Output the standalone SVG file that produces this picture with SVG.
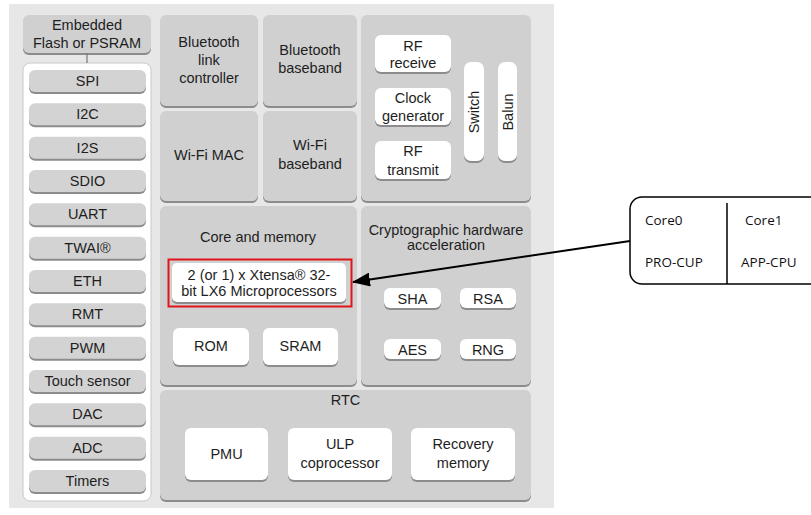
<svg xmlns="http://www.w3.org/2000/svg" width="811" height="515" viewBox="0 0 811 515">
<defs>
<marker id="ah" viewBox="0 0 18 14" refX="17" refY="7" markerWidth="18" markerHeight="14" markerUnits="userSpaceOnUse" orient="auto">
<path d="M0,0 L18,7 L0,14 z" fill="#000"/>
</marker>
</defs>
<style>
text{font-family:"Liberation Sans",Arial,sans-serif;font-size:14.5px;fill:#1e1e1e;text-anchor:middle}
.sh{fill:#8c8c8c}
.g{fill:#d0d0d0}
.p{fill:#d3d3d3}
.w{fill:#ffffff}
.c{font-family:"Open Sans","Noto Sans",sans-serif;font-size:13.5px;text-anchor:start;fill:#111}
</style>
<rect width="811" height="515" fill="#fff"/>
<rect x="9" y="4" width="545" height="504" fill="#e7e7e7"/>

<g id="flash">
<rect class="sh" x="23" y="17" width="128" height="38" rx="6"/>
<rect class="g" x="23" y="15" width="128" height="38" rx="6"/>
<text x="87" y="30">Embedded</text>
<text x="87" y="48">Flash or PSRAM</text>
</g>

<g id="peripherals">
<rect x="23" y="63" width="128" height="438" rx="7" fill="#fff" stroke="#c8c8c8" stroke-width="1"/>
</g>
<g id="spi"><rect class="sh" x="29" y="72" width="117" height="22" rx="6"/><rect class="p" x="29" y="70" width="117" height="22" rx="6"/><text x="87.5" y="86">SPI</text></g>
<g id="i2c"><rect class="sh" x="29" y="105.3" width="117" height="22" rx="6"/><rect class="p" x="29" y="103.3" width="117" height="22" rx="6"/><text x="87.5" y="119.3">I2C</text></g>
<g id="i2s"><rect class="sh" x="29" y="138.7" width="117" height="22" rx="6"/><rect class="p" x="29" y="136.7" width="117" height="22" rx="6"/><text x="87.5" y="152.7">I2S</text></g>
<g id="sdio"><rect class="sh" x="29" y="172" width="117" height="22" rx="6"/><rect class="p" x="29" y="170" width="117" height="22" rx="6"/><text x="87.5" y="186">SDIO</text></g>
<g id="uart"><rect class="sh" x="29" y="205.3" width="117" height="22" rx="6"/><rect class="p" x="29" y="203.3" width="117" height="22" rx="6"/><text x="87.5" y="219.3">UART</text></g>
<g id="twai"><rect class="sh" x="29" y="238.7" width="117" height="22" rx="6"/><rect class="p" x="29" y="236.7" width="117" height="22" rx="6"/><text x="87.5" y="252.7">TWAI®</text></g>
<g id="eth"><rect class="sh" x="29" y="272" width="117" height="22" rx="6"/><rect class="p" x="29" y="270" width="117" height="22" rx="6"/><text x="87.5" y="286">ETH</text></g>
<g id="rmt"><rect class="sh" x="29" y="305.3" width="117" height="22" rx="6"/><rect class="p" x="29" y="303.3" width="117" height="22" rx="6"/><text x="87.5" y="319.3">RMT</text></g>
<g id="pwm"><rect class="sh" x="29" y="338.7" width="117" height="22" rx="6"/><rect class="p" x="29" y="336.7" width="117" height="22" rx="6"/><text x="87.5" y="352.7">PWM</text></g>
<g id="touch"><rect class="sh" x="29" y="372" width="117" height="22" rx="6"/><rect class="p" x="29" y="370" width="117" height="22" rx="6"/><text x="87.5" y="386">Touch sensor</text></g>
<g id="dac"><rect class="sh" x="29" y="405.3" width="117" height="22" rx="6"/><rect class="p" x="29" y="403.3" width="117" height="22" rx="6"/><text x="87.5" y="419.3">DAC</text></g>
<g id="adc"><rect class="sh" x="29" y="438.7" width="117" height="22" rx="6"/><rect class="p" x="29" y="436.7" width="117" height="22" rx="6"/><text x="87.5" y="452.7">ADC</text></g>
<g id="timers"><rect class="sh" x="29" y="472" width="117" height="22" rx="6"/><rect class="p" x="29" y="470" width="117" height="22" rx="6"/><text x="87.5" y="486">Timers</text></g>

<g id="bt-link">
<rect class="sh" x="160" y="17" width="98" height="91" rx="6"/>
<rect class="g" x="160" y="15" width="98" height="91" rx="6"/>
<text x="209" y="47">Bluetooth</text>
<text x="209" y="65">link</text>
<text x="209" y="83">controller</text>
</g>
<g id="bt-baseband">
<rect class="sh" x="263" y="17" width="94" height="91" rx="6"/>
<rect class="g" x="263" y="15" width="94" height="91" rx="6"/>
<text x="310" y="55">Bluetooth</text>
<text x="310" y="73">baseband</text>
</g>
<g id="wifi-mac">
<rect class="sh" x="160" y="113" width="98" height="90" rx="6"/>
<rect class="g" x="160" y="111" width="98" height="90" rx="6"/>
<text x="209" y="160">Wi-Fi MAC</text>
</g>
<g id="wifi-baseband">
<rect class="sh" x="263" y="113" width="94" height="90" rx="6"/>
<rect class="g" x="263" y="111" width="94" height="90" rx="6"/>
<text x="310" y="150">Wi-Fi</text>
<text x="310" y="169">baseband</text>
</g>
<g id="rf">
<rect class="sh" x="361" y="17" width="170" height="186" rx="6"/>
<rect class="g" x="361" y="15" width="170" height="186" rx="6"/>
</g>
<g id="rf-receive">
<rect class="sh" x="375" y="37" width="76" height="37" rx="6"/>
<rect class="w" x="375" y="35" width="76" height="37" rx="6"/>
<text x="413" y="51">RF</text>
<text x="413" y="68">receive</text>
</g>
<g id="clock">
<rect class="sh" x="375" y="90" width="76" height="37" rx="6"/>
<rect class="w" x="375" y="88" width="76" height="37" rx="6"/>
<text x="413" y="103">Clock</text>
<text x="413" y="121">generator</text>
</g>
<g id="rf-transmit">
<rect class="sh" x="375" y="143" width="76" height="38" rx="6"/>
<rect class="w" x="375" y="141" width="76" height="38" rx="6"/>
<text x="413" y="156">RF</text>
<text x="413" y="175">transmit</text>
</g>
<g id="switch">
<rect class="sh" x="464" y="64" width="20" height="99" rx="7"/>
<rect class="w" x="464" y="62" width="20" height="99" rx="7"/>
<text transform="translate(479,112) rotate(-90)">Switch</text>
</g>
<g id="balun">
<rect class="sh" x="498" y="64" width="19" height="99" rx="7"/>
<rect class="w" x="498" y="62" width="19" height="99" rx="7"/>
<text transform="translate(513,112) rotate(-90)">Balun</text>
</g>

<g id="core-memory">
<rect class="sh" x="160" y="208" width="197" height="179" rx="6"/>
<rect class="g" x="160" y="206" width="197" height="179" rx="6"/>
<text x="258" y="242">Core and memory</text>
</g>
<g id="cpu">
<rect class="sh" x="172" y="265" width="174" height="39" rx="5"/>
<rect class="w" x="172" y="263" width="174" height="39" rx="5"/>
<rect x="168.5" y="259.5" width="183" height="47" fill="none" stroke="#e0161b" stroke-width="2"/>
<text x="259" y="280">2 (or 1) x Xtensa® 32-</text>
<text x="259" y="296">bit LX6 Microprocessors</text>
</g>
<g id="rom">
<rect class="sh" x="173" y="330" width="76" height="37" rx="6"/>
<rect class="w" x="173" y="328" width="76" height="37" rx="6"/>
<text x="211" y="351">ROM</text>
</g>
<g id="sram">
<rect class="sh" x="263" y="330" width="75" height="37" rx="6"/>
<rect class="w" x="263" y="328" width="75" height="37" rx="6"/>
<text x="300.5" y="351">SRAM</text>
</g>

<g id="crypto">
<rect class="sh" x="361" y="208" width="170" height="179" rx="6"/>
<rect class="g" x="361" y="206" width="170" height="179" rx="6"/>
<text x="446" y="235">Cryptographic hardware</text>
<text x="446" y="250">acceleration</text>
</g>
<g id="sha">
<rect class="sh" x="384" y="290" width="57" height="20" rx="6"/>
<rect class="w" x="384" y="288" width="57" height="20" rx="6"/>
<text x="412.5" y="304">SHA</text>
</g>
<g id="rsa">
<rect class="sh" x="460" y="290" width="56" height="20" rx="6"/>
<rect class="w" x="460" y="288" width="56" height="20" rx="6"/>
<text x="488" y="304">RSA</text>
</g>
<g id="aes">
<rect class="sh" x="384" y="341" width="57" height="20" rx="6"/>
<rect class="w" x="384" y="339" width="57" height="20" rx="6"/>
<text x="412.5" y="355">AES</text>
</g>
<g id="rng">
<rect class="sh" x="460" y="341" width="56" height="20" rx="6"/>
<rect class="w" x="460" y="339" width="56" height="20" rx="6"/>
<text x="488" y="355">RNG</text>
</g>

<g id="rtc">
<rect class="sh" x="160" y="392" width="371" height="110" rx="6"/>
<rect class="g" x="160" y="390" width="371" height="110" rx="6"/>
<text x="345.5" y="405">RTC</text>
</g>
<g id="pmu">
<rect class="sh" x="185" y="430" width="83" height="52" rx="6"/>
<rect class="w" x="185" y="428" width="83" height="52" rx="6"/>
<text x="226.5" y="459">PMU</text>
</g>
<g id="ulp">
<rect class="sh" x="288" y="430" width="104" height="52" rx="6"/>
<rect class="w" x="288" y="428" width="104" height="52" rx="6"/>
<text x="340" y="449">ULP</text>
<text x="340" y="468">coprocessor</text>
</g>
<g id="recovery">
<rect class="sh" x="411" y="430" width="104" height="52" rx="6"/>
<rect class="w" x="411" y="428" width="104" height="52" rx="6"/>
<text x="463" y="449">Recovery</text>
<text x="463" y="468">memory</text>
</g>

<g id="cores">
<rect x="630" y="197" width="200" height="87" rx="12" fill="#fff" stroke="#000" stroke-width="1.5"/>
<line x1="727" y1="203" x2="727" y2="284" stroke="#000" stroke-width="1.5"/>
<text class="c" x="645" y="225">Core0</text>
<text class="c" x="645" y="267">PRO-CUP</text>
<text class="c" x="745" y="225">Core1</text>
<text class="c" x="741" y="267">APP-CPU</text>
</g>

<g id="connectors">
<line x1="87" y1="53" x2="87" y2="63" stroke="#777" stroke-width="1.2"/>
<line x1="630" y1="241" x2="353" y2="282" stroke="#000" stroke-width="2" marker-end="url(#ah)"/>
</g>
</svg>
